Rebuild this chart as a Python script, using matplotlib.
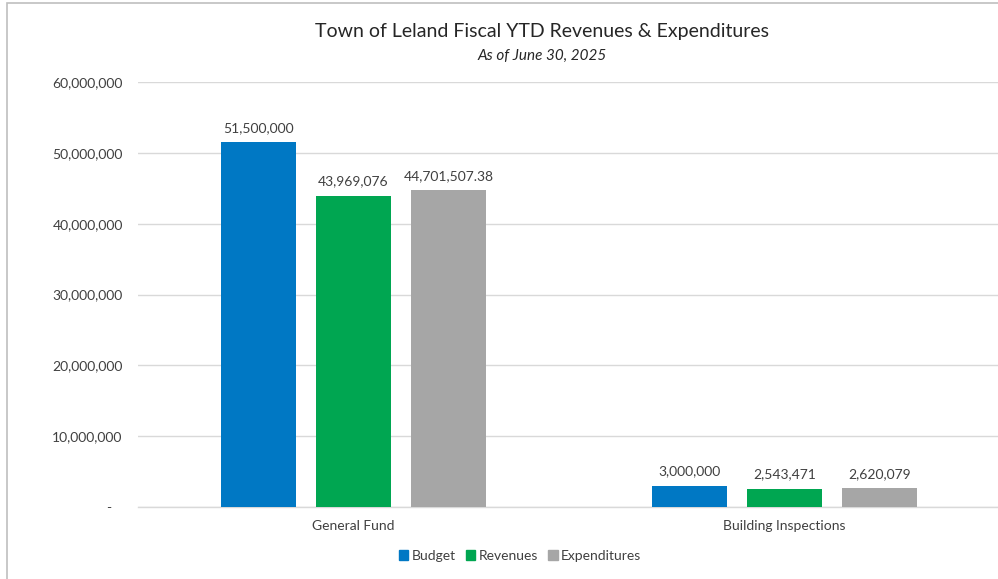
import numpy as np
import matplotlib.pyplot as plt
from matplotlib.patches import Patch, Rectangle
from matplotlib.ticker import FuncFormatter

plt.rcParams['font.family'] = ['Lato', 'DejaVu Sans']

# data
categories = ['General Fund', 'Building Inspections']
series_names = ['Budget', 'Revenues', 'Expenditures']
budget = [51500000, 3000000]
revenues = [43969076, 2543471]
expenditures = [44701507.38, 2620079]
label_text = [
    ['51,500,000', '3,000,000'],
    ['43,969,076', '2,543,471'],
    ['44,701,507.38', '2,620,079'],
]
colors = ['#0078C4', '#00A651', '#A6A6A6']

fig = plt.figure(figsize=(9.98, 5.79), dpi=100)
ax = fig.add_axes([138 / 998, 72 / 579, 862 / 998, 425 / 579])

# chart border (cropped at right and bottom like the original)
fig.patches.append(Rectangle((7 / 998, -0.05), 1.2, (579 - 3) / 579 + 0.05,
                             transform=fig.transFigure, fill=False,
                             edgecolor='#BFBFBF', linewidth=1.2, zorder=0))

x = np.arange(len(categories))
offsets = [-0.22, 0, 0.22]
width = 0.174
for vals, off, col, labs in zip([budget, revenues, expenditures], offsets, colors, label_text):
    bars = ax.bar(x + off, vals, width, color=col, zorder=3)
    for b, t in zip(bars, labs):
        ax.annotate(t, (b.get_x() + b.get_width() / 2, b.get_height()),
                    xytext=(0, 6), textcoords='offset points',
                    ha='center', va='bottom', fontsize=10, color='#404040')

ax.set_xlim(-0.5, 1.5)
ax.set_ylim(0, 60000000)
ax.set_yticks(np.arange(0, 60000001, 10000000))
ax.yaxis.set_major_formatter(FuncFormatter(lambda v, p: '-   ' if v == 0 else f'{v:,.0f}'))
ax.set_xticks(x)
ax.set_xticklabels(categories)
ax.tick_params(axis='both', length=0, labelsize=10, colors='#404040')
ax.tick_params(axis='y', pad=11)
ax.tick_params(axis='x', pad=9)
ax.grid(axis='y', color='#D9D9D9', linewidth=1, zorder=0)
for s in ['top', 'right', 'left']:
    ax.spines[s].set_visible(False)
ax.spines['bottom'].set_color('#D9D9D9')
ax.spines['bottom'].set_linewidth(1)

fig.text(542 / 998, 1 - 32 / 579, 'Town of Leland Fiscal YTD Revenues & Expenditures',
         ha='center', va='center', fontsize=14, color='#262626')
fig.text(542 / 998, 1 - 56 / 579, 'As of June 30, 2025',
         ha='center', va='center', fontsize=11, style='italic', color='#262626')

handles = [Patch(color=c, label=n) for c, n in zip(colors, series_names)]
fig.legend(handles=handles, loc='center', bbox_to_anchor=(520 / 998, 1 - 556 / 579),
           ncol=3, frameon=False, fontsize=10, handlelength=0.7, handleheight=0.7,
           handletextpad=0.25, columnspacing=0.7, labelcolor='#404040')

plt.savefig('out.png', dpi=100)
